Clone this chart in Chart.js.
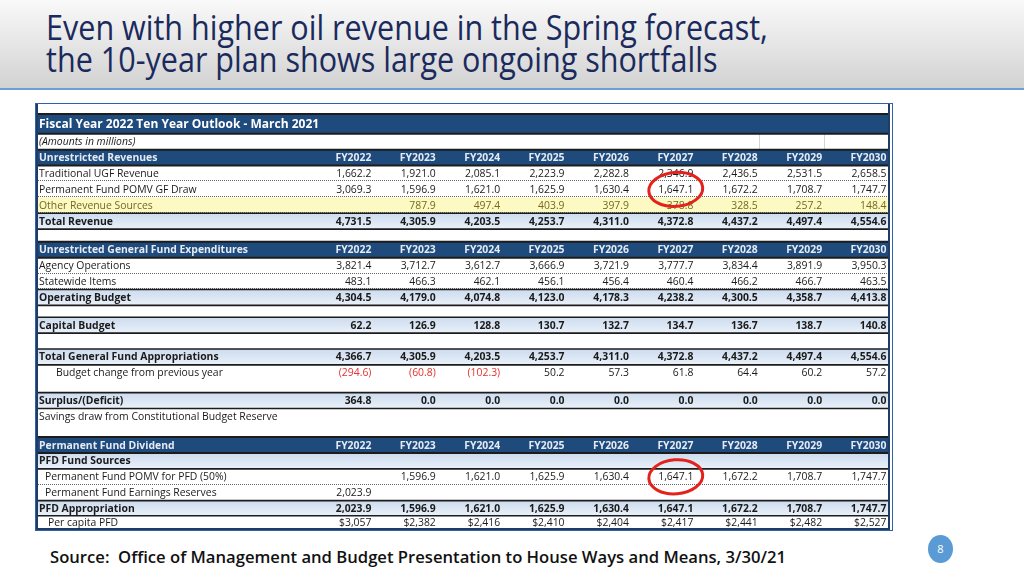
<!DOCTYPE html>
<html>
<head>
<meta charset="utf-8">
<title>Fiscal Year 2022 Ten Year Outlook</title>
<script src="https://cdn.jsdelivr.net/npm/chart.js@4.4.1/dist/chart.umd.min.js"></script>
<style>
  html, body { margin: 0; padding: 0; background: #fff; }
  body { width: 1024px; height: 576px; position: relative; overflow: hidden; }
  .band {
    position: absolute; left: 0; top: 0; width: 1024px; height: 88px;
    background: linear-gradient(#f9f9f9, #d2d2d2);
    border-bottom: 2px solid #6a9fd8;
  }
  .band h1 {
    position: absolute; left: 46px; top: 11px; margin: 0;
    font-family: 'Open Sans', sans-serif; font-weight: 400; font-size: 34px; line-height: 32px;
    color: #1b2a5c; white-space: nowrap; transform-origin: 0 0;
  }
  .band h1 span { display: inline-block; }
  .frame {
    position: absolute; left: 35px; top: 103px; width: 856px; height: 426px;
    border: 1px solid #2f62a8;
  }
  #table { position: absolute; left: 36px; top: 104px; }
  .source {
    position: absolute; left: 50px; top: 547px;
    font-family: 'Open Sans', sans-serif; font-weight: 600; font-size: 17px; line-height: 20px;
    color: #111; white-space: pre; transform-origin: 0 0;
  }
  .page {
    position: absolute; left: 928px; top: 535px; width: 25px; height: 28px; border-radius: 50%;
    background: #5b9bd5; color: #fff; font-family: 'Open Sans', sans-serif; font-size: 11px;
    line-height: 28px; text-align: center;
  }
</style>
</head>
<body>
<div class="band">
  <h1 id="headline"><span id="line1">Even with higher oil revenue in the Spring forecast,</span><br><span>the 10-year plan shows large ongoing shortfalls</span></h1>
</div>
<div class="frame"></div>
<canvas id="table" width="854" height="426"></canvas>
<div class="source" id="source">Source:  Office of Management and Budget Presentation to House Ways and Means, 3/30/21</div>
<div class="page">8</div>

<script>
const years = ['FY2022', 'FY2023', 'FY2024', 'FY2025', 'FY2026', 'FY2027', 'FY2028', 'FY2029', 'FY2030']
const tableTitle = 'Fiscal Year 2022 Ten Year Outlook - March 2021'
const unitsNote = '(Amounts in millions)'

// revenues
const traditionalUGF = [1662.2, 1921.0, 2085.1, 2223.9, 2282.8, 2346.9, 2436.5, 2531.5, 2658.5]
const pomvGFDraw = [3069.3, 1596.9, 1621.0, 1625.9, 1630.4, 1647.1, 1672.2, 1708.7, 1747.7]
const otherRevenue = [null, 787.9, 497.4, 403.9, 397.9, 378.8, 328.5, 257.2, 148.4]
const totalRevenue = [4731.5, 4305.9, 4203.5, 4253.7, 4311.0, 4372.8, 4437.2, 4497.4, 4554.6]

// expenditures
const agencyOperations = [3821.4, 3712.7, 3612.7, 3666.9, 3721.9, 3777.7, 3834.4, 3891.9, 3950.3]
const statewideItems = [483.1, 466.3, 462.1, 456.1, 456.4, 460.4, 466.2, 466.7, 463.5]
const operatingBudget = [4304.5, 4179.0, 4074.8, 4123.0, 4178.3, 4238.2, 4300.5, 4358.7, 4413.8]
const capitalBudget = [62.2, 126.9, 128.8, 130.7, 132.7, 134.7, 136.7, 138.7, 140.8]
const totalAppropriations = [4366.7, 4305.9, 4203.5, 4253.7, 4311.0, 4372.8, 4437.2, 4497.4, 4554.6]
const budgetChange = [-294.6, -60.8, -102.3, 50.2, 57.3, 61.8, 64.4, 60.2, 57.2]
const surplusDeficit = [364.8, 0.0, 0.0, 0.0, 0.0, 0.0, 0.0, 0.0, 0.0]
const cbrDraw = []

// dividend
const pomvForPFD = [null, 1596.9, 1621.0, 1625.9, 1630.4, 1647.1, 1672.2, 1708.7, 1747.7]
const earningsReserve = [2023.9]
const pfdAppropriation = [2023.9, 1596.9, 1621.0, 1625.9, 1630.4, 1647.1, 1672.2, 1708.7, 1747.7]
const perCapitaPFD = [3057, 2382, 2416, 2410, 2404, 2417, 2441, 2482, 2527]

// cells circled in red on the slide
const circled = [
  { row: 'Permanent Fund POMV GF Draw', year: 'FY2027' },
  { row: 'Permanent Fund POMV for PFD (50%)', year: 'FY2027' }
]

const tableRows = [
  { kind: 'title', label: tableTitle },
  { kind: 'note', label: unitsNote },
  { kind: 'header', label: 'Unrestricted Revenues', values: years },
  { kind: 'item', label: 'Traditional UGF Revenue', values: traditionalUGF },
  { kind: 'item', label: 'Permanent Fund POMV GF Draw', values: pomvGFDraw },
  { kind: 'highlight', label: 'Other Revenue Sources', values: otherRevenue },
  { kind: 'total', label: 'Total Revenue', values: totalRevenue },
  { kind: 'gap', size: 0.8 },
  { kind: 'header', label: 'Unrestricted General Fund Expenditures', values: years },
  { kind: 'item', label: 'Agency Operations', values: agencyOperations },
  { kind: 'item', label: 'Statewide Items', values: statewideItems },
  { kind: 'total', label: 'Operating Budget', values: operatingBudget },
  { kind: 'gap', size: 0.75 },
  { kind: 'total', label: 'Capital Budget', values: capitalBudget },
  { kind: 'gap', size: 1 },
  { kind: 'total', label: 'Total General Fund Appropriations', values: totalAppropriations },
  { kind: 'sub', label: 'Budget change from previous year', values: budgetChange, indent: 17 },
  { kind: 'gap', size: 0.75 },
  { kind: 'total', label: 'Surplus/(Deficit)', values: surplusDeficit },
  { kind: 'sub', label: 'Savings draw from Constitutional Budget Reserve', values: cbrDraw },
  { kind: 'gap', size: 0.8 },
  { kind: 'header', label: 'Permanent Fund Dividend', values: years },
  { kind: 'total', label: 'PFD Fund Sources' },
  { kind: 'item', label: 'Permanent Fund POMV for PFD (50%)', values: pomvForPFD, indent: 6 },
  { kind: 'item', label: 'Permanent Fund Earnings Reserves', values: earningsReserve, indent: 6 },
  { kind: 'total', label: 'PFD Appropriation', values: pfdAppropriation, size: 0.95 },
  { kind: 'sub', label: 'Per capita PFD', values: perCapitaPFD, indent: 9, money: true, size: 0.9 }
]

// stack rows along the y axis (row units)
let cursor = 0
const placedRows = tableRows.map((row) => {
  const size = row.size || (row.kind === 'title' ? 1.25 : 1)
  const placed = { ...row, from: cursor, to: cursor + size }
  cursor += size
  return placed
})
const tableDepth = cursor

function formatAmount(value, money) {
  if (typeof value === 'string') return value
  if (money) return '$' + value.toLocaleString('en-US')
  const text = Math.abs(value).toLocaleString('en-US', { minimumFractionDigits: 1, maximumFractionDigits: 1 })
  return value < 0 ? `(${text})` : text
}

const darkBlue = '#1f4a7c'
const ink = '#1a1a1a'
const cellFont = "'Open Sans'"

const tablePlugin = {
  id: 'fiscalTable',
  afterDraw(chart) {
    const { ctx, scales: { x, y } } = chart
    const band = x.width / years.length
    const colRight = (i) => x.getPixelForValue(i) + band / 2 - 1.5
    const width = chart.width

    ctx.save()
    ctx.textBaseline = 'middle'

    // backgrounds
    placedRows.forEach((row) => {
      const top = y.getPixelForValue(row.from)
      const bottom = y.getPixelForValue(row.to)
      if (row.kind === 'title' || row.kind === 'header') {
        ctx.fillStyle = darkBlue
      } else if (row.kind === 'total') {
        const gradient = ctx.createLinearGradient(0, top, 0, bottom)
        gradient.addColorStop(0, '#ccdbee')
        gradient.addColorStop(1, '#eaf1f9')
        ctx.fillStyle = gradient
      } else if (row.kind === 'highlight') {
        ctx.fillStyle = '#fcf9c3'
      } else {
        return
      }
      ctx.fillRect(0, top, width, bottom - top)
    })

    // faint cell borders in the note row
    const note = placedRows.find((row) => row.kind === 'note')
    ctx.strokeStyle = '#d4d4d4'
    ctx.lineWidth = 1
    ;[7, 8].forEach((i) => {
      const edge = Math.round(x.getPixelForValue(i) - band / 2) + 0.5
      ctx.beginPath()
      ctx.moveTo(edge, y.getPixelForValue(note.from))
      ctx.lineTo(edge, y.getPixelForValue(note.to))
      ctx.stroke()
    })

    // dotted separators under detail rows
    ctx.strokeStyle = '#666'
    ctx.setLineDash([1, 1])
    placedRows.forEach((row) => {
      if (row.kind !== 'item' && row.kind !== 'highlight') return
      const bottom = Math.round(y.getPixelForValue(row.to)) - 0.5
      ctx.beginPath()
      ctx.moveTo(0, bottom)
      ctx.lineTo(width, bottom)
      ctx.stroke()
    })
    ctx.setLineDash([])

    // solid section rules
    ctx.strokeStyle = '#1c1c1c'
    placedRows.forEach((row) => {
      if (!['title', 'header', 'total'].includes(row.kind)) return
      ctx.lineWidth = row.kind === 'total' ? 1.6 : 2
      ;[row.from, row.to].forEach((v) => {
        const py = y.getPixelForValue(v)
        ctx.beginPath()
        ctx.moveTo(0, py)
        ctx.lineTo(width, py)
        ctx.stroke()
      })
    })

    // outer table edges
    ctx.strokeStyle = '#1e3c66'
    ctx.lineWidth = 2
    ctx.beginPath()
    ctx.moveTo(1, 0)
    ctx.lineTo(1, chart.height)
    ctx.moveTo(width - 1, 0)
    ctx.lineTo(width - 1, chart.height)
    ctx.moveTo(0, y.getPixelForValue(tableDepth) - 1)
    ctx.lineTo(width, y.getPixelForValue(tableDepth) - 1)
    ctx.stroke()

    // text
    placedRows.forEach((row) => {
      if (row.kind === 'gap') return
      const mid = y.getPixelForValue((row.from + row.to) / 2) + 0.5
      const bold = ['title', 'header', 'total'].includes(row.kind)
      const size = row.kind === 'title' ? 12 : 10.4
      ctx.font = `${row.kind === 'note' ? 'italic ' : ''}${bold ? 'bold ' : ''}${size}px ${cellFont}`
      ctx.fillStyle = row.kind === 'title' ? '#fff'
        : row.kind === 'header' ? '#e4ebf4'
        : row.kind === 'highlight' ? '#76691f' : ink
      ctx.textAlign = 'left'
      ctx.fillText(row.label, 3 + (row.indent || 0), mid)

      if (!row.values) return
      ctx.textAlign = 'right'
      row.values.forEach((value, i) => {
        if (value === null || value === undefined) return
        const base = ctx.fillStyle
        if (typeof value === 'number' && value < 0) ctx.fillStyle = '#e5302b'
        ctx.fillText(formatAmount(value, row.money), colRight(i), mid)
        ctx.fillStyle = base
      })
    })

    // red circles around the POMV draw
    ctx.strokeStyle = '#e3221c'
    ctx.lineWidth = 3
    circled.forEach((mark) => {
      const row = placedRows.find((r) => r.label === mark.row)
      const i = years.indexOf(mark.year)
      ctx.font = `10.4px ${cellFont}`
      const text = formatAmount(row.values[i], row.money)
      const cx = colRight(i) - ctx.measureText(text).width / 2
      const cy = y.getPixelForValue((row.from + row.to) / 2)
      ctx.beginPath()
      ctx.ellipse(cx, cy, 27, 17, -0.08, 0, Math.PI * 2)
      ctx.stroke()
    })

    ctx.restore()
  }
}

new Chart(document.getElementById('table').getContext('2d'), {
  type: 'bar',
  data: {
    labels: years,
    datasets: []
  },
  options: {
    responsive: false,
    animation: false,
    events: [],
    layout: {
      padding: { left: 272.5, right: 2, top: 10, bottom: 0 }
    },
    plugins: {
      legend: { display: false },
      tooltip: { enabled: false }
    },
    scales: {
      x: { type: 'category', offset: true, display: false },
      y: { type: 'linear', reverse: true, min: 0, max: tableDepth, display: false }
    }
  },
  plugins: [tablePlugin]
})

// squeeze the slide texts to the widths they have on the slide
function fitWidth(el, measure, target) {
  const w = measure.getBoundingClientRect().width
  el.style.transform = `scaleX(${target / w})`
}
fitWidth(document.getElementById('headline'), document.getElementById('line1'), 722)
fitWidth(document.getElementById('source'), document.getElementById('source'), 736)
</script>
</body>
</html>
